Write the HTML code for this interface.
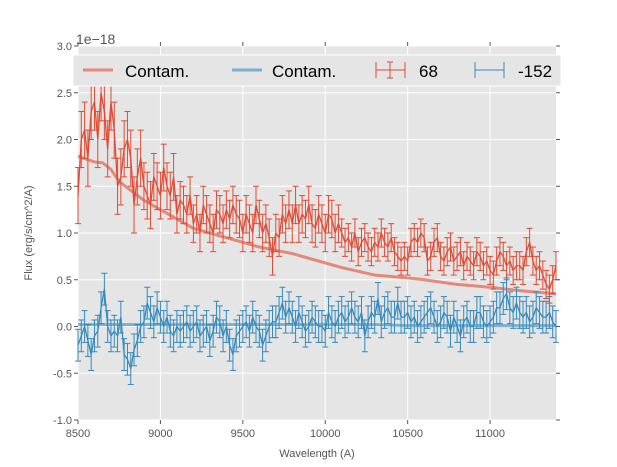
<!DOCTYPE html>
<html><head><meta charset="utf-8"><style>
body{margin:0;background:#fff;}
svg{display:block;font-family:"Liberation Sans","DejaVu Sans",sans-serif;}
</style></head><body>
<svg id="chart" width="617" height="467">
<rect x="78" y="46" width="478" height="374" fill="#e5e5e5"/>
<g id="grid"></g><g id="series"></g><g id="axes"></g>
<text x="76" y="44" font-size="14" fill="#555">1e−18</text>
<text x="317" y="457" font-size="11" fill="#555" text-anchor="middle">Wavelength (A)</text>
<text transform="translate(32,233) rotate(-90)" font-size="11" fill="#555" text-anchor="middle">Flux (erg/s/cm^2/A)</text>
<g>
<rect x="73" y="55" width="488" height="31" fill="#e5e5e5" stroke="#fff" stroke-width="1"/>
<line x1="83" y1="70" x2="113" y2="70" stroke="#E24A33" stroke-opacity="0.6" stroke-width="3"/>
<text x="125" y="77" font-size="17">Contam.</text>
<line x1="232" y1="70" x2="262" y2="70" stroke="#348ABD" stroke-opacity="0.6" stroke-width="3"/>
<text x="272" y="77" font-size="17">Contam.</text>
<g stroke="#E24A33" stroke-width="1"><line x1="376" y1="70" x2="405" y2="70"/><line x1="390" y1="62" x2="390" y2="78"/><line x1="387" y1="62" x2="393" y2="62"/><line x1="387" y1="78" x2="393" y2="78"/><line x1="376" y1="62" x2="376" y2="78"/><line x1="405" y1="62" x2="405" y2="78"/></g>
<text x="419" y="77" font-size="17">68</text>
<g stroke="#348ABD" stroke-width="1"><line x1="475" y1="70" x2="504" y2="70"/><line x1="475" y1="62" x2="475" y2="78"/><line x1="504" y1="62" x2="504" y2="78"/></g>
<text x="518" y="77" font-size="17">-152</text>
</g>
</svg>
<script>
const x0 = 8500, dx = 20;
const xTicks = [8500, 9000, 9500, 10000, 10500, 11000];
const yTicks = [-1.0, -0.5, 0.0, 0.5, 1.0, 1.5, 2.0, 2.5, 3.0];
const redFlux = [1.4,2.0,2.1,1.8,2.3,2.4,2.0,2.5,2.3,1.9, 2.4,2.1,1.5,1.6,1.9,2.0,1.8,1.3,1.6,1.8,
1.5,1.4,1.3,1.6,1.5,1.4,1.7,1.5,1.4,1.6, 1.2,1.35,1.3,1.2,1.4,1.1,1.2,1.0,1.3,1.2,
1.1,1.0,1.25,1.2,1.1,1.25,1.15,1.3,1.2,1.15, 1.0,1.2,1.1,1.0,1.3,1.15,1.0,1.1,0.95,0.75,
1.0,0.95,1.2,1.1,1.25,1.1,1.3,1.1,1.2,1.15, 1.3,1.1,1.05,1.2,1.1,1.0,1.2,1.15,1.0,1.1,
1.0,0.9,0.95,0.85,1.0,0.8,0.9,0.95,0.85,0.8, 0.9,0.85,1.0,0.9,0.85,0.95,0.8,0.75,0.7,0.75,
0.7,0.9,0.95,0.9,1.0,0.95,0.7,0.75,0.9,0.95, 0.75,0.7,0.8,0.85,0.7,0.75,0.8,0.65,0.75,0.7,
0.65,0.8,0.75,0.65,0.7,0.6,0.55,0.7,0.8,0.75, 0.65,0.7,0.6,0.65,0.65,0.6,0.8,0.9,0.7,0.6,
0.65,0.55,0.45,0.4,0.5,0.65];
const blueFlux = [-0.2,-0.1,0.0,-0.15,-0.3,-0.1,-0.05,0.2,0.4,0.0, -0.1,-0.05,-0.1,0.1,-0.3,-0.35,-0.45,-0.25,-0.15,0.0,
0.05,0.25,0.15,0.05,0.2,0.1,0.0,0.1,-0.05,-0.1, 0.0,-0.05,0.0,0.05,-0.05,0.0,0.05,-0.1,-0.05,0.0,
-0.15,-0.05,0.1,0.05,-0.1,0.0,-0.2,-0.3,-0.1,-0.05, 0.0,0.05,-0.05,0.1,0.0,-0.05,-0.2,-0.1,0.0,0.05,
0.05,0.15,0.25,0.1,0.2,0.1,0.0,0.15,0.05,-0.05, 0.0,0.1,0.05,0.0,0.0,-0.05,0.15,0.05,0.0,0.1,
0.15,0.05,0.1,0.2,0.1,0.05,0.15,-0.1,0.05,0.15, 0.1,0.3,0.05,0.15,0.2,0.1,0.1,0.25,0.1,0.1,
0.15,0.05,0.1,0.0,0.05,0.1,0.15,0.2,0.1,0.0, 0.05,0.15,0.1,-0.05,0.1,0.0,-0.1,0.05,0.1,0.0,
0.0,0.15,0.15,0.05,0.0,0.05,0.1,0.2,0.2,0.3, 0.35,0.2,0.15,0.25,0.15,0.1,0.15,0.05,0.1,0.2,
0.15,0.1,0.1,0.15,0.05,0.0];
const redErr = [0.3,0.3,0.3,0.3,0.3,0.3,0.3,0.3,0.3,0.3, 0.3,0.3,0.3,0.3,0.3,0.3,0.3,0.3,0.3,0.3,
0.25,0.25,0.25,0.25,0.25,0.25,0.25,0.25,0.25,0.25, 0.2,0.2,0.2,0.2,0.2,0.2,0.2,0.2,0.2,0.2,
0.2,0.2,0.2,0.2,0.2,0.2,0.2,0.2,0.2,0.2, 0.2,0.2,0.2,0.2,0.2,0.2,0.2,0.2,0.2,0.2,
0.2,0.2,0.2,0.2,0.2,0.2,0.2,0.2,0.2,0.2, 0.2,0.2,0.2,0.2,0.2,0.2,0.2,0.2,0.2,0.2,
0.15,0.15,0.15,0.15,0.15,0.15,0.15,0.15,0.15,0.15, 0.15,0.15,0.15,0.15,0.15,0.15,0.15,0.15,0.15,0.15,
0.15,0.15,0.15,0.15,0.15,0.15,0.15,0.15,0.15,0.15, 0.15,0.15,0.15,0.15,0.15,0.15,0.15,0.15,0.15,0.15,
0.15,0.15,0.15,0.15,0.15,0.15,0.15,0.15,0.15,0.15, 0.15,0.15,0.15,0.15,0.15,0.15,0.15,0.15,0.15,0.15,
0.15,0.15,0.15,0.15,0.15,0.15];
const blueErr = 0.17;
const contamX = [8500,8600,8650,8700,8750,8900,9000,9100,9200,9400,9600,9800,9900,10000,10100,10300,10500,10600,10800,11000,11200,11400];
const contamRed = [1.82,1.76,1.75,1.68,1.55,1.35,1.25,1.15,1.05,0.95,0.85,0.78,0.73,0.68,0.63,0.55,0.52,0.5,0.45,0.42,0.38,0.35];
const contamBlue = [0.02,0.02,0.02,0.02,0.02,0.02,0.02,0.02,0.02,0.02,0.02,0.02,0.02,0.02,0.02,0.02,0.01,0.01,0.01,0.01,0.01,0.01];

const NS="http://www.w3.org/2000/svg";
const X = v => 78 + (v-8500)*(478/2900);
const Y = v => 420 - (v+1)*(374/4);
function mk(tag, attrs, parent){const e=document.createElementNS(NS,tag);for(const k in attrs)e.setAttribute(k,attrs[k]);parent.appendChild(e);return e;}
const grid=document.getElementById('grid'), ser=document.getElementById('series'), ax=document.getElementById('axes');
xTicks.forEach(t=>{
  const l=mk('line',{x1:X(t),x2:X(t),y1:46,y2:420,stroke:'#fff','stroke-width':1},grid);
  
  
  const tx=mk('text',{x:X(t),y:437,'font-size':11,fill:'#555','text-anchor':'middle'},ax);
  tx.textContent=t;
  
  
  mk('line',{x1:X(t),x2:X(t),y1:420,y2:424,stroke:'#555'},ax);
  mk('line',{x1:X(t),x2:X(t),y1:46,y2:42,stroke:'#555'},ax);
});
yTicks.forEach(t=>{
  const l=mk('line',{x1:78,x2:556,y1:Y(t),y2:Y(t),stroke:'#fff','stroke-width':1},grid);
  
  
  const tx=mk('text',{x:72,y:Y(t)+4,'font-size':11,fill:'#555','text-anchor':'end'},ax);
  tx.textContent=t.toFixed(1);
  
  
  mk('line',{x1:556,x2:560,y1:Y(t),y2:Y(t),stroke:'#555'},ax);
  mk('line',{x1:74,x2:78,y1:Y(t),y2:Y(t),stroke:'#555'},ax);
});
function poly(xs, ys, color, w, op, name){
  const p=mk('polyline',{points:xs.map((x,i)=>X(x)+','+Y(ys[i])).join(' '),fill:'none',stroke:color,'stroke-width':w,'stroke-opacity':op,'stroke-linejoin':'round'},ser);
  
  
}
poly(contamX,contamRed,'#E24A33',3,0.6,'contam-red-line');
poly(contamX,contamBlue,'#348ABD',3,0.6,'contam-blue-line');
function errSeries(vals, errs, color, name){
  const xs=vals.map((v,i)=>x0+i*dx);
  const g=mk('g',{stroke:color,'stroke-width':1},ser);
  
  
  vals.forEach((v,i)=>{
    const e=Array.isArray(errs)?errs[i]:errs, x=X(xs[i]);
    mk('line',{x1:x,x2:x,y1:Y(v-e),y2:Y(v+e)},g);
    mk('line',{x1:x-3,x2:x+3,y1:Y(v-e),y2:Y(v-e)},g);
    mk('line',{x1:x-3,x2:x+3,y1:Y(v+e),y2:Y(v+e)},g);
  });
  poly(xs,vals,color,1.3,1,name+'-line');
}
errSeries(redFlux,redErr,'#E24A33','series-68');
errSeries(blueFlux,blueErr,'#348ABD','series-minus-152');
</script>
</body></html>
